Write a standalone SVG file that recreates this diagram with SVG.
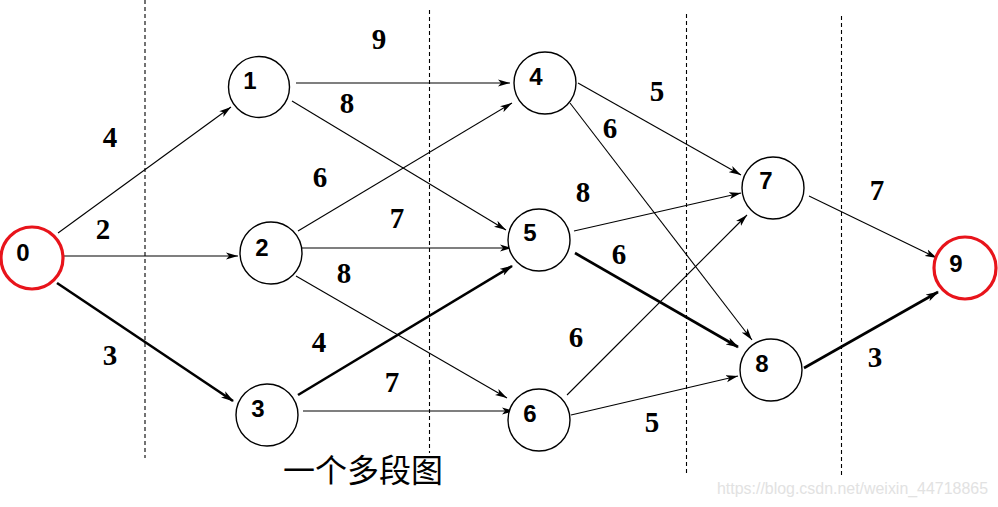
<svg xmlns="http://www.w3.org/2000/svg" width="998" height="507" viewBox="0 0 998 507">
<style>
.n{fill:#fff;stroke:#000;stroke-width:1.4}
.r{fill:#fff;stroke:#e8141b;stroke-width:3.2}
.nl{font-family:"Liberation Sans",Arial,sans-serif;font-weight:bold;font-size:24px;text-anchor:middle;fill:#000}
.el{font-family:"Liberation Serif","Times New Roman",serif;font-weight:bold;font-size:29px;text-anchor:middle;fill:#000}
.e{stroke:#000;stroke-width:1.1;fill:none;marker-end:url(#a)}
.t{stroke:#000;stroke-width:2.6;fill:none;marker-end:url(#b)}
.d{stroke:#000;stroke-width:1.1;stroke-dasharray:4 3}
</style>
<defs>
<marker id="a" viewBox="0 0 12 8" refX="12" refY="4" markerWidth="12" markerHeight="8" markerUnits="userSpaceOnUse" orient="auto">
<path d="M0,0.5 L12,4 L0,7.5 L3,4 z" fill="#000"/>
</marker>
<marker id="b" viewBox="0 0 12 8" refX="11" refY="4" markerWidth="13" markerHeight="9" markerUnits="userSpaceOnUse" orient="auto">
<path d="M0,0.5 L12,4 L0,7.5 L3,4 z" fill="#000"/>
</marker>
</defs>
<rect width="998" height="507" fill="#fff"/>
<g id="stages">
<line class="d" x1="145" y1="0" x2="145" y2="458"/>
<line class="d" x1="429.5" y1="10" x2="429.5" y2="453"/>
<line class="d" x1="686.5" y1="14" x2="686.5" y2="473"/>
<line class="d" x1="841.5" y1="16" x2="841.5" y2="475"/>
</g>
<g id="connectors">
<line class="e" x1="58" y1="233" x2="231" y2="107"/>
<line class="e" x1="63" y1="256" x2="238" y2="256"/>
<line class="t" x1="57" y1="283" x2="233" y2="401"/>
<line class="e" x1="296" y1="83" x2="510" y2="83"/>
<line class="e" x1="292" y1="101" x2="506" y2="230"/>
<line class="e" x1="298" y1="231" x2="512" y2="103"/>
<line class="e" x1="301" y1="248" x2="512" y2="248"/>
<line class="e" x1="296" y1="276" x2="507" y2="398"/>
<line class="t" x1="298" y1="395" x2="512" y2="266"/>
<line class="e" x1="303" y1="411" x2="514" y2="411"/>
<line class="e" x1="578" y1="83" x2="741" y2="175"/>
<line class="e" x1="570" y1="103" x2="752" y2="340"/>
<line class="e" x1="574" y1="231" x2="741" y2="193"/>
<line class="t" x1="575" y1="253" x2="738" y2="347"/>
<line class="e" x1="567" y1="395" x2="747" y2="215"/>
<line class="e" x1="571" y1="415" x2="738" y2="376"/>
<line class="e" x1="809" y1="196" x2="937" y2="258"/>
<line class="t" x1="804" y1="368" x2="938" y2="292"/>
</g>
<g id="weights">
<text class="el" x="110" y="147">4</text>
<text class="el" x="103" y="239">2</text>
<text class="el" x="110" y="365">3</text>
<text class="el" x="379" y="49">9</text>
<text class="el" x="347" y="113">8</text>
<text class="el" x="320" y="187">6</text>
<text class="el" x="397" y="228">7</text>
<text class="el" x="344" y="283">8</text>
<text class="el" x="319" y="352">4</text>
<text class="el" x="392" y="392">7</text>
<text class="el" x="657" y="101">5</text>
<text class="el" x="610" y="138">6</text>
<text class="el" x="583" y="202">8</text>
<text class="el" x="619" y="264">6</text>
<text class="el" x="576" y="347">6</text>
<text class="el" x="652" y="432">5</text>
<text class="el" x="877" y="200">7</text>
<text class="el" x="875" y="367">3</text>
</g>
<g id="node0"><circle class="r" cx="32" cy="258" r="31"/><text class="nl" x="23" y="261">0</text></g>
<g id="node1"><circle class="n" cx="259" cy="87" r="30.5"/><text class="nl" x="250" y="89">1</text></g>
<g id="node2"><circle class="n" cx="271" cy="253" r="31"/><text class="nl" x="262" y="256">2</text></g>
<g id="node3"><circle class="n" cx="267" cy="415" r="31"/><text class="nl" x="258" y="417">3</text></g>
<g id="node4"><circle class="n" cx="545" cy="83" r="31"/><text class="nl" x="536" y="85">4</text></g>
<g id="node5"><circle class="n" cx="539" cy="240" r="31"/><text class="nl" x="530" y="241">5</text></g>
<g id="node6"><circle class="n" cx="539" cy="420" r="31"/><text class="nl" x="530" y="422">6</text></g>
<g id="node7"><circle class="n" cx="773" cy="188" r="31"/><text class="nl" x="766" y="189">7</text></g>
<g id="node8"><circle class="n" cx="771" cy="370" r="31"/><text class="nl" x="762" y="372">8</text></g>
<g id="node9"><circle class="r" cx="965" cy="268" r="31"/><text class="nl" x="956" y="272">9</text></g>
<text x="283" y="482" font-family="'Noto Sans CJK SC',sans-serif" font-size="32" fill="#000">一个多段图</text>
<text x="717" y="494" font-family="'Liberation Sans',Arial,sans-serif" font-size="17" fill="#e2e2e2" textLength="271" lengthAdjust="spacingAndGlyphs">https://blog.csdn.net/weixin_44718865</text>
</svg>
